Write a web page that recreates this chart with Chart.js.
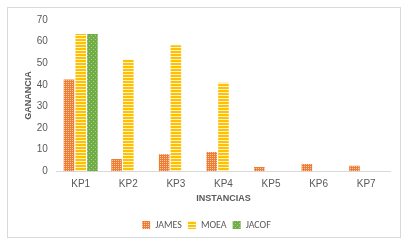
<!DOCTYPE html>
<html>
<head>
<meta charset="utf-8">
<script src="https://cdn.jsdelivr.net/npm/chart.js@4"></script>
<style>
  html, body { margin: 0; padding: 0; background: #fff; }
  #frame { position: absolute; left: 7px; top: 7px; width: 394px; height: 231px; border: 1px solid #d9d9d9; box-sizing: border-box; }
  #wrap { position: absolute; left: 0; top: 0; width: 410px; height: 246px; }
</style>
</head>
<body>
<div id="frame"></div>
<div id="wrap"><canvas id="chart"></canvas></div>
<script>
const categories = ['KP1', 'KP2', 'KP3', 'KP4', 'KP5', 'KP6', 'KP7'];
const jamesValues = [42.5, 5.7, 7.8, 8.9, 1.9, 3.3, 2.5];
const moeaValues = [63.5, 51.6, 58.3, 40.9, 0, 0, 0];
const jacofValues = [63.5, 0, 0, 0, 0, 0, 0];
const yTicks = [0, 10, 20, 30, 40, 50, 60, 70];

// Small tiled fills that mimic the pattern fills of the original
function makePattern(size, draw) {
    const c = document.createElement('canvas');
    c.width = size;
    c.height = size;
    draw(c.getContext('2d'));
    return document.getElementById('chart').getContext('2d').createPattern(c, 'repeat');
}

const jamesFill = makePattern(4, (ctx) => {
    ctx.fillStyle = '#ed7d31';
    ctx.fillRect(0, 0, 4, 4);
    ctx.fillStyle = '#f8c9ad';
    ctx.fillRect(0, 0, 1, 1);
    ctx.fillRect(2, 2, 1, 1);
    ctx.fillRect(2, 0, 1, 1);
    ctx.fillRect(0, 2, 1, 1);
});

const moeaFill = makePattern(3, (ctx) => {
    ctx.fillStyle = '#ffc000';
    ctx.fillRect(0, 0, 3, 3);
    ctx.fillStyle = '#fff2cc';
    ctx.fillRect(0, 2, 3, 1);
});

const jacofFill = makePattern(4, (ctx) => {
    ctx.fillStyle = '#70ad47';
    ctx.fillRect(0, 0, 4, 4);
    ctx.fillStyle = '#a9d18e';
    ctx.fillRect(1, 1, 1, 1);
    ctx.fillRect(3, 3, 1, 1);
});

const gray = '#595959';

new Chart(document.getElementById('chart'), {
    type: 'bar',
    data: {
        labels: categories,
        datasets: [
            { label: 'JAMES', data: jamesValues, backgroundColor: jamesFill },
            { label: 'MOEA', data: moeaValues, backgroundColor: moeaFill },
            { label: 'JACOF', data: jacofValues, backgroundColor: jacofFill },
        ],
    },
    options: {
        responsive: true,
        maintainAspectRatio: false,
        animation: false,
        layout: { padding: { left: 23, right: 20, top: 20, bottom: 6 } },
        datasets: {
            bar: { categoryPercentage: 0.74, barPercentage: 0.9 },
        },
        plugins: {
            legend: {
                position: 'bottom',
                labels: {
                    boxWidth: 8,
                    boxHeight: 8,
                    padding: 6,
                    color: gray,
                    font: { family: 'Calibri, Carlito, "Liberation Sans", sans-serif', size: 10 },
                },
            },
            tooltip: { enabled: false },
        },
        scales: {
            x: {
                grid: { display: false, drawTicks: false },
                border: { color: '#d9d9d9', width: 1 },
                ticks: {
                    color: gray,
                    padding: 7,
                    font: { family: '"Liberation Sans", sans-serif', size: 10 },
                },
                title: {
                    display: true,
                    text: 'INSTANCIAS',
                    color: gray,
                    padding: { top: -4, bottom: 10 },
                    font: { family: '"Liberation Sans", sans-serif', size: 9, weight: 'bold' },
                },
            },
            y: {
                min: 0,
                max: 70,
                afterBuildTicks: (axis) => {
                    axis.ticks = yTicks.map(v => ({ value: v }));
                },
                grid: { display: false, drawTicks: false },
                border: { display: false },
                ticks: {
                    color: gray,
                    padding: 9,
                    font: { family: '"Liberation Sans", sans-serif', size: 10 },
                },
                title: {
                    display: true,
                    text: 'GANANCIA',
                    color: gray,
                    padding: { top: 0, bottom: -6 },
                    font: { family: '"Liberation Sans", sans-serif', size: 9, weight: 'bold' },
                },
            },
        },
    },
});
</script>
</body>
</html>
